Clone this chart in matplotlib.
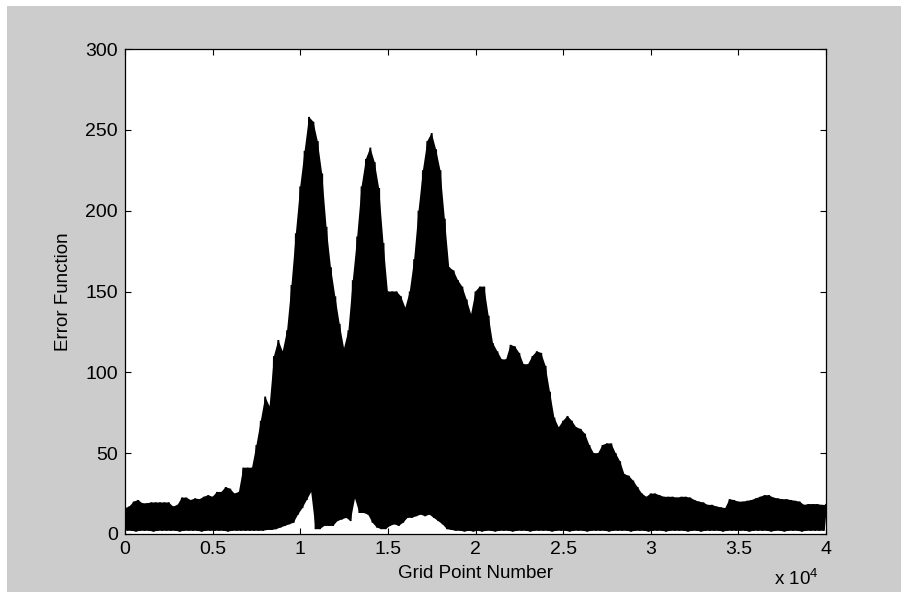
import numpy as np
import matplotlib as mpl
mpl.use('Agg')
import matplotlib.pyplot as plt
from matplotlib.patches import Rectangle

plt.rcParams['font.family'] = ['Liberation Sans', 'DejaVu Sans']
plt.rcParams['mathtext.fontset'] = 'custom'
plt.rcParams['mathtext.rm'] = 'Liberation Sans'

# upper envelope of the error function, read every 250 grid points (0 .. 40000)
err_top = [16, 17, 20, 21, 19, 19, 19.5, 19.5, 19.5, 19.5,
           19.5, 17, 18, 22.5, 22.5, 21, 22, 21.5, 23, 24,
           23, 26, 26, 29, 28, 25, 26, 41, 41, 41,
           55, 70, 85, 79, 110, 120, 113, 126, 154, 186,
           215, 237, 258, 255, 243, 223, 190, 165, 147, 130,
           115, 126, 157, 184, 215, 232, 239, 230, 214, 180,
           150, 150, 150, 147, 140, 150, 170, 200, 225, 243,
           248, 238, 225, 195, 165, 163, 157, 153, 145, 136,
           150, 153, 153, 135, 118, 113, 108, 108, 117, 116,
           112, 105, 105, 110, 113, 112, 104, 88, 72, 66,
           70, 73, 70, 66, 65, 62, 55, 50, 50, 55,
           56, 56, 50, 45, 37, 36, 33, 29, 25, 23,
           25, 25, 24, 23, 23, 23, 22.5, 23, 23, 22.5,
           21, 20, 19.5, 18, 18, 17, 16.5, 16, 21.5, 21,
           20, 20, 20.5, 21, 22, 23, 24, 24, 22.5, 22,
           21.5, 21.5, 21, 20.5, 20, 18, 18.5, 18.5, 18.5, 18,
           18]

# lower envelope, read half way between (125 .. 39875)
err_bot = [2, 2, 1.5, 2, 2, 2, 1.5, 2, 2, 2,
           2, 2, 1.5, 2, 2, 2, 2, 1.5, 2, 2,
           2, 2, 2, 1.5, 2, 2, 2, 2, 2, 2,
           2, 2, 2.5, 2.5, 3, 4, 5, 6, 7, 12,
           16, 21, 26, 3, 3, 5, 5, 5, 8, 9,
           10, 8, 22, 13, 13, 12, 7, 4, 3, 3,
           5, 6, 5, 7, 10, 10, 11, 12, 11, 12,
           10, 8, 6, 3, 2.5, 2, 2, 1.5, 2, 1.5,
           2, 1.5, 2, 2, 1.5, 2, 2, 2, 1.5, 2,
           2, 2, 1.5, 2, 2, 2, 2, 1.5, 2, 2,
           2, 1.5, 2, 2, 2, 1.5, 2, 2, 2, 2,
           1.5, 2, 2, 2, 2, 1.5, 2, 2, 2, 1.5,
           2, 2, 2, 1.5, 2, 2, 2, 2, 1.5, 2,
           2, 1.5, 2, 2, 2, 2, 1.5, 2, 2, 2,
           2, 2, 1.5, 2, 2, 2, 2, 1.5, 2, 2,
           1.5, 2, 2, 2, 1.5, 2, 2, 2, 2, 2]

xtick_vals = [0, 5000, 10000, 15000, 20000, 25000, 30000, 35000, 40000]
xtick_labels = ['0', '0.5', '1', '1.5', '2', '2.5', '3', '3.5', '4']
ytick_vals = [0, 50, 100, 150, 200, 250, 300]

# interleave top/bottom readings into one oscillating trace
step = 250
x_top = np.arange(len(err_top)) * step
x_bot = np.arange(len(err_bot)) * step + step / 2
xs = np.empty(len(err_top) + len(err_bot))
ys = np.empty_like(xs)
xs[0::2] = x_top
xs[1::2] = x_bot
ys[0::2] = err_top
ys[1::2] = err_bot

fig = plt.figure(figsize=(9.01, 5.96), dpi=100, facecolor='white')
fig.patches.append(Rectangle((7 / 901, 4 / 596), 894 / 901, 586 / 596,
                             transform=fig.transFigure, facecolor='#cccccc',
                             edgecolor='none', zorder=-5))

ax = fig.add_axes([125 / 901, 62 / 596, 701 / 901, 485 / 596])
ax.set_facecolor('white')
# the trace is too dense to resolve, so fill the band between the envelopes
band_x = np.concatenate([x_top, x_bot[::-1]])
band_y = np.concatenate([err_top, err_bot[::-1]])
ax.fill(band_x, band_y, color='black', lw=0)
ax.plot(xs, ys, color='black', lw=1.4, solid_joinstyle='miter')

ax.set_xlim(0, 40000)
ax.set_ylim(0, 300)
ax.set_xticks(xtick_vals)
ax.set_xticklabels(xtick_labels)
ax.set_yticks(ytick_vals)
ax.tick_params(direction='in', length=4, width=0.8, top=True, right=True,
               labelsize=14, pad=5)
for s in ax.spines.values():
    s.set_linewidth(0.9)
    s.set_color('black')

ax.set_xlabel('Grid Point Number', fontsize=13.5, labelpad=5)
ax.set_ylabel('Error Function', fontsize=13.5, labelpad=10)
fig.text(774 / 901, 1 - 579 / 596, 'x 10$^{4}$', fontsize=13.5, va='center')

fig.savefig('out.png', dpi=100, facecolor=fig.get_facecolor())
